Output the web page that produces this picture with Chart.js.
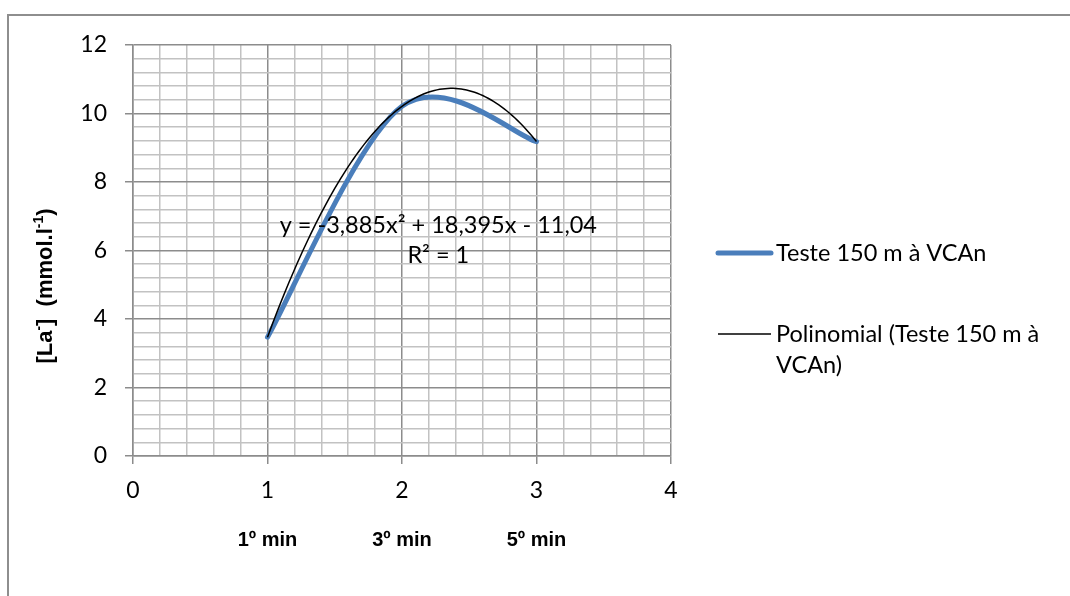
<!DOCTYPE html>
<html><head><meta charset="utf-8">
<script src="https://cdn.jsdelivr.net/npm/chart.js@4/dist/chart.umd.min.js"></script>
<style>html,body{margin:0;padding:0;background:#fff;}#wrap{width:1070px;height:596px;position:relative;}</style>
</head><body><div id="wrap"><canvas id="c" width="1070" height="596"></canvas></div>
<script>
// ---- data ----
const xValues = [1, 2, 3];
const lactate = [3.47, 10.21, 9.18];
const trendCoefficients = [-3.885, 18.395, -11.04]; // y = a x² + b x + c (as printed on the chart)
const stageLabels = ['1º min', '3º min', '5º min'];
const seriesName = 'Teste 150 m à VCAn';
const trendName = 'Polinomial (Teste 150 m à VCAn)';
const equationLines = ['y = -3,885x² + 18,395x - 11,04', 'R² = 1'];
const yTitleParts = [['[La', false], ['-', true], [']  (mmol.l', false], ['-1', true], [')', false]];

// trendline evaluated from its printed coefficients over the data range
const trendPoints = [];
for (let i = 0; i <= 100; i++) {
  const x = xValues[0] + (xValues[xValues.length - 1] - xValues[0]) * i / 100;
  trendPoints.push({x, y: trendCoefficients[0] * x * x + trendCoefficients[1] * x + trendCoefficients[2]});
}
const seriesPoints = xValues.map((x, i) => ({x, y: lactate[i]}));

const MAJOR = '#8c8c8c', MINOR = '#c2c2c2';
const isMult = (v, m) => Math.abs(v / m - Math.round(v / m)) < 1e-6;
const FONT = 'Lato';

// Excel-style smoothing (uniform Catmull-Rom, tangent = (next - prev) / 6)
const excelSmooth = {
  id: 'excelSmooth',
  beforeDatasetDraw(chart, args) {
    const meta = args.meta;
    if (!meta.dataset || meta.dataset.options.tension === 0) return;
    meta.dataset.updateControlPoints(chart.chartArea, meta.iScale.axis);
    const pts = meta.data;
    for (let i = 0; i < pts.length; i++) {
      const p = pts[i], prev = pts[i - 1] || p, next = pts[i + 1] || p;
      const dx = (next.x - prev.x) / 6, dy = (next.y - prev.y) / 6;
      p.cp1x = p.x - dx; p.cp1y = p.y - dy;
      p.cp2x = p.x + dx; p.cp2y = p.y + dy;
    }
    meta.dataset._path = undefined;
  }
};

const decor = {
  id: 'decor',
  beforeDraw(chart) {
    const ctx = chart.ctx;
    ctx.save();
    ctx.fillStyle = '#fff';
    ctx.fillRect(0, 0, chart.width, chart.height);
    ctx.strokeStyle = '#8e8e8e';
    ctx.lineWidth = 2;
    ctx.strokeRect(8, 15, 1200, 800);
    ctx.restore();
  },
  afterDraw(chart) {
    const ctx = chart.ctx;
    const xs = chart.scales.x, ys = chart.scales.y;
    ctx.save();
    // equation
    ctx.fillStyle = '#000';
    ctx.font = '23.5px ' + FONT;
    ctx.textAlign = 'center';
    ctx.textBaseline = 'middle';
    const ex = xs.getPixelForValue(2.27);
    ctx.fillText(equationLines[0], ex, ys.getPixelForValue(6.74));
    ctx.fillText(equationLines[1], ex, ys.getPixelForValue(5.86));

    // y title
    ctx.save();
    ctx.translate(44, 286);
    ctx.rotate(-Math.PI / 2);
    const big = 'bold 22px "Liberation Sans"', small = 'bold 14px "Liberation Sans"';
    let total = 0;
    yTitleParts.forEach(([t, sup]) => { ctx.font = sup ? small : big; total += ctx.measureText(t).width; });
    let px = -total / 2;
    ctx.textAlign = 'left';
    ctx.textBaseline = 'alphabetic';
    yTitleParts.forEach(([t, sup]) => {
      ctx.font = sup ? small : big;
      ctx.fillText(t, px, sup ? -1 : 8);
      px += ctx.measureText(t).width;
    });
    ctx.restore();

    // legend
    const items = chart.data.datasets.slice().sort((a, b) => b.order - a.order);
    const tops = [253, 334];
    ctx.font = '23.5px ' + FONT;
    ctx.textAlign = 'left';
    ctx.textBaseline = 'middle';
    items.forEach((ds, k) => {
      const y = tops[k];
      ctx.strokeStyle = ds.borderColor;
      ctx.lineWidth = ds.borderWidth;
      ctx.lineCap = ds.borderWidth > 2 ? 'round' : 'butt';
      ctx.beginPath();
      ctx.moveTo(718, y); ctx.lineTo(771, y); ctx.stroke();
      const words = ds.label.split(' ');
      const lines = []; let cur = '';
      words.forEach(w => {
        const test = cur ? cur + ' ' + w : w;
        if (ctx.measureText(test).width > 288 && cur) { lines.push(cur); cur = w; } else cur = test;
      });
      lines.push(cur);
      ctx.fillStyle = '#000';
      lines.forEach((l, j) => ctx.fillText(l, 776, y + j * 31));
    });
    ctx.restore();
  }
};

new Chart(document.getElementById('c'), {
  type: 'scatter',
  data: {
    datasets: [
      {label: trendName, data: trendPoints, showLine: true, borderColor: '#000000', borderWidth: 1.5,
       pointRadius: 0, tension: 0, order: 0},
      {label: seriesName, data: seriesPoints, showLine: true, borderColor: '#4a7ebb', borderWidth: 5,
       pointRadius: 0, tension: 0.4, order: 1, borderCapStyle: 'round'}
    ]
  },
  options: {
    responsive: false, animation: false, devicePixelRatio: 1,
    layout: {padding: {left: 0, right: 399, top: 45, bottom: 0}},
    plugins: {legend: {display: false}, tooltip: {enabled: false}},
    scales: {
      x: {
        type: 'linear', position: 'bottom', min: 0, max: 4, weight: 0,
        afterFit(s) { s.height = 60; },
        ticks: {stepSize: 0.2, autoSkip: false, maxRotation: 0, padding: 13, color: '#000',
          font: {family: FONT, size: 23},
          callback: v => isMult(v, 1) ? String(Math.round(v)) : ''},
        grid: {color: c => (c.tick && isMult(c.tick.value, 1)) ? MAJOR : MINOR,
          tickColor: c => (c.tick && isMult(c.tick.value, 1)) ? MAJOR : 'rgba(0,0,0,0)',
          lineWidth: 1.5, tickLength: 8, drawTicks: true},
        border: {color: MAJOR, width: 1.5}
      },
      x2: {
        type: 'linear', position: 'bottom', min: 0, max: 4, weight: 1,
        afterFit(s) { s.height = 80; },
        afterBuildTicks(s) { s.ticks = xValues.map(v => ({value: v})); },
        ticks: {autoSkip: false, maxRotation: 0, padding: 12, color: '#000',
          font: {family: 'Liberation Sans', size: 20, weight: 'bold'},
          callback: (v, i) => stageLabels[i]},
        grid: {display: false, drawTicks: false},
        border: {display: false}
      },
      y: {
        type: 'linear', position: 'left', min: 0, max: 12,
        afterFit(s) { s.width = 133; },
        ticks: {stepSize: 0.4, autoSkip: false, padding: 18, color: '#000',
          font: {family: FONT, size: 23},
          callback: v => isMult(v, 2) ? String(Math.round(v)) : ''},
        grid: {color: c => (c.tick && isMult(c.tick.value, 2)) ? MAJOR : MINOR,
          tickColor: c => (c.tick && isMult(c.tick.value, 2)) ? MAJOR : 'rgba(0,0,0,0)',
          lineWidth: 1.5, tickLength: 8, drawTicks: true},
        border: {color: MAJOR, width: 1.5}
      }
    }
  },
  plugins: [excelSmooth, decor]
});
</script></body></html>
